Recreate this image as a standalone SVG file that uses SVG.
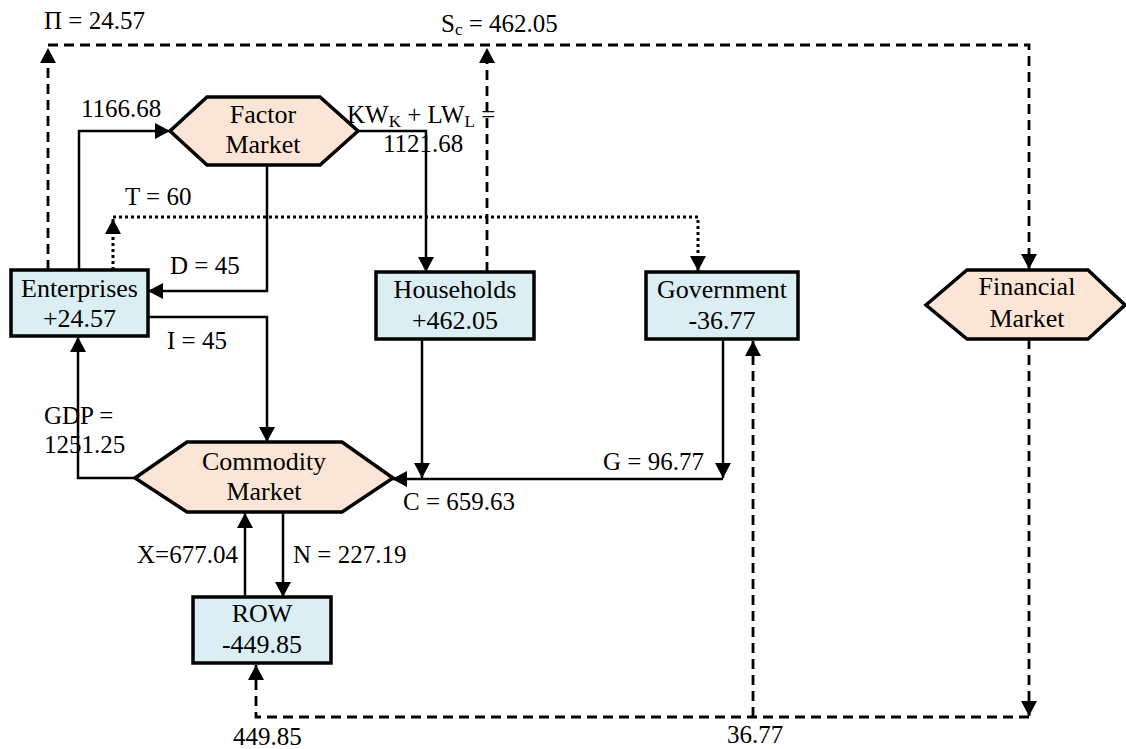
<svg xmlns="http://www.w3.org/2000/svg" width="1126" height="749" viewBox="0 0 1126 749">
<defs>
<marker id="ah" viewBox="0 0 15 16" refX="15" refY="8" markerWidth="15" markerHeight="16" markerUnits="userSpaceOnUse" orient="auto">
<path d="M0,0 L15,8 L0,16 z" fill="#000"/>
</marker>
<style>
text{font-family:"Liberation Serif","Times New Roman",serif;fill:#000;}
.n{font-size:26px;text-anchor:middle;}
.l{font-size:25px;}
.box{fill:#DAEEF3;stroke:#000;stroke-width:3.5;}
.hex{fill:#FBE5D6;stroke:#000;stroke-width:3.5;stroke-linejoin:miter;}
.s{fill:none;stroke:#000;stroke-width:2.5;}
.d{fill:none;stroke:#000;stroke-width:2.8;stroke-dasharray:10 6;}
.o{fill:none;stroke:#000;stroke-width:3;stroke-dasharray:3 3;}
</style>
</defs>
<rect width="1126" height="749" fill="#fff"/>
<g id="connectors">
<path class="d" d="M48,270 V48" marker-end="url(#ah)"/>
<path class="d" d="M48,45 H1029 V269" marker-end="url(#ah)"/>
<path class="d" d="M487,272 V48" marker-end="url(#ah)"/>
<path class="d" d="M1029,339 V716" marker-end="url(#ah)"/>
<path class="d" d="M1029,717 H256 V665" marker-end="url(#ah)"/>
<path class="d" d="M753,717 V341" marker-end="url(#ah)"/>
<path class="o" d="M113,270 V219" marker-end="url(#ah)"/>
<path class="o" d="M113,217 H698 V271" marker-end="url(#ah)"/>
<path class="s" d="M79,270 V131 H170" marker-end="url(#ah)"/>
<path class="s" d="M358,131 H426 V272" marker-end="url(#ah)"/>
<path class="s" d="M267,165 V291 H148" marker-end="url(#ah)"/>
<path class="s" d="M148,317 H267 V442" marker-end="url(#ah)"/>
<path class="s" d="M135,478 H78 V337" marker-end="url(#ah)"/>
<path class="s" d="M422,339 V478" marker-end="url(#ah)"/>
<path class="s" d="M723,339 V478" marker-end="url(#ah)"/>
<path class="s" d="M723,479 H392" marker-end="url(#ah)"/>
<path class="s" d="M245,597 V513" marker-end="url(#ah)"/>
<path class="s" d="M283,512 V597" marker-end="url(#ah)"/>
</g>
<g id="labels">
<text class="l" x="44" y="29">Π = 24.57</text>
<text class="l" x="441" y="32">S<tspan font-size="17" dy="3">c</tspan><tspan dy="-3"> = 462.05</tspan></text>
<text class="l" x="81" y="117">1166.68</text>
<text class="l" x="347" y="123">KW<tspan font-size="17" dy="4">K</tspan><tspan dy="-4"> + LW</tspan><tspan font-size="17" dy="4">L</tspan><tspan dy="-4"> =</tspan></text>
<text class="l" x="383" y="152">1121.68</text>
<text class="l" x="125" y="205">T = 60</text>
<text class="l" x="170" y="274">D = 45</text>
<text class="l" x="167" y="349">I = 45</text>
<text class="l" x="44" y="424">GDP =</text>
<text class="l" x="44" y="453">1251.25</text>
<text class="l" x="603" y="470">G = 96.77</text>
<text class="l" x="403" y="510">C = 659.63</text>
<text class="l" x="137" y="563">X=677.04</text>
<text class="l" x="293" y="563">N = 227.19</text>
<text class="l" x="233" y="745">449.85</text>
<text class="l" x="727" y="743">36.77</text>
</g>
<g id="factor-market">
<polygon class="hex" points="170,131 207,97 320,97 358,131 320,165 207,165"/>
<text class="n" x="263" y="123">Factor</text>
<text class="n" x="263" y="153">Market</text>
</g>
<g id="enterprises">
<rect class="box" x="11" y="270" width="137" height="66"/>
<text class="n" x="79.5" y="297">Enterprises</text>
<text class="n" x="79.5" y="327">+24.57</text>
</g>
<g id="households">
<rect class="box" x="376" y="272" width="158" height="67"/>
<text class="n" x="455" y="298">Households</text>
<text class="n" x="455" y="329">+462.05</text>
</g>
<g id="government">
<rect class="box" x="646" y="272" width="152" height="67"/>
<text class="n" x="722" y="298">Government</text>
<text class="n" x="722" y="329">-36.77</text>
</g>
<g id="financial-market">
<polygon class="hex" points="926,305 967,270 1088,270 1125,305 1088,339 967,339"/>
<text class="n" x="1027" y="295">Financial</text>
<text class="n" x="1027" y="327">Market</text>
</g>
<g id="commodity-market">
<polygon class="hex" points="135,478 187,442 342,442 393,478 342,512 187,512"/>
<text class="n" x="264" y="470">Commodity</text>
<text class="n" x="264" y="500">Market</text>
</g>
<g id="row">
<rect class="box" x="193" y="597" width="138" height="66"/>
<text class="n" x="262" y="622">ROW</text>
<text class="n" x="262" y="653">-449.85</text>
</g>
</svg>
